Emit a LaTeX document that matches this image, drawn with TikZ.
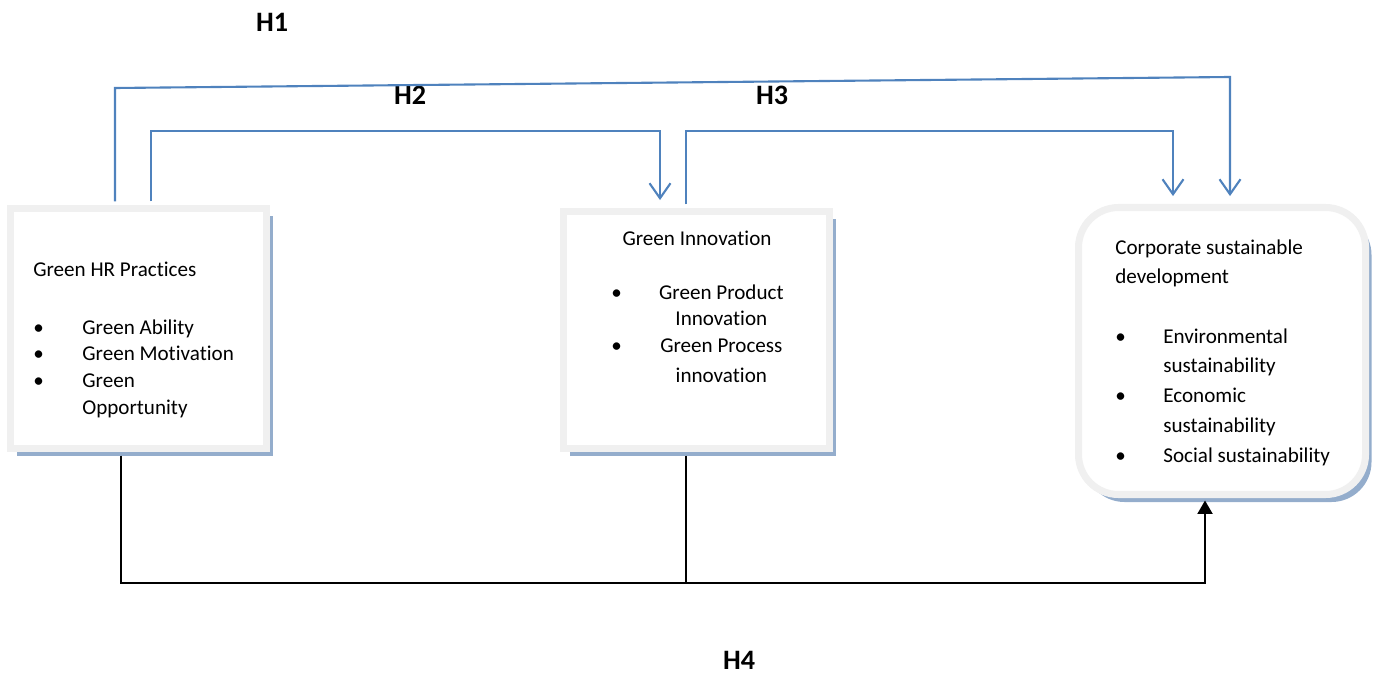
\documentclass[tikz,border=0pt]{standalone}
\usepackage{fontspec}
\setmainfont{Carlito}[Ligatures=NoCommon]
\usepackage{array}
\usepackage{tikz}
\usetikzlibrary{shadows,arrows.meta}
\definecolor{boxborder}{rgb}{0.94,0.94,0.94}
\definecolor{boxshadow}{rgb}{0.58,0.68,0.80}
\definecolor{hblue}{rgb}{0.31,0.51,0.74}
\tikzstyle{practicebox}=[rectangle, draw=boxborder, line width=4pt, fill=white, drop shadow={shadow xshift=0.12cm, shadow yshift=-0.15cm, fill=boxshadow, opacity=1}]
\tikzstyle{outcomebox}=[practicebox, rounded corners=0.8cm]
\tikzstyle{boxtext}=[inner sep=0pt, font=\fontsize{12}{15.2}\selectfont]
\tikzstyle{hypo}=[inner sep=0pt, font=\fontsize{16}{19}\selectfont\bfseries]
\tikzstyle{hypoline}=[draw=hblue, line width=1.2pt, shorten <=2pt, shorten >=4.5pt, -{Straight Barb[length=0.3cm,width=0.42cm]}]
\tikzstyle{effectline}=[draw=black, line width=1.2pt, shorten <=2pt]
\newcommand{\hypothesis}[3]{
	\node[hypo] (#1) at (#2) {#3};}

\begin{document}
\begin{tikzpicture}
	\useasboundingbox (0,0) rectangle (27.6,13.5);

	\node[practicebox, minimum width=5.12cm, minimum height=4.8cm] (hr) at (2.77,6.93) {};
	\node[practicebox, minimum width=5.32cm, minimum height=4.74cm] (gi) at (13.93,6.90) {};
	\node[outcomebox, minimum width=5.74cm, minimum height=5.74cm] (csd) at (24.44,6.48) {};

	% box contents
	\node[boxtext, anchor=base west] (hrtitle) at (0.66,7.98) {Green HR Practices};
	\node[boxtext, anchor=base west] (hrlist) at (0.66,6.82) {\begin{tabular}[t]{@{}p{0.98cm}@{}l@{}}
		\textbullet & Green Ability\\
		\textbullet & Green Motivation\\
		\textbullet & Green\\
		 & Opportunity
	\end{tabular}};

	\node[boxtext, anchor=base] (gititle) at (13.94,8.58) {Green Innovation};
	\node[boxtext, anchor=base west] (gilist) at (12.22,7.52) {\begin{tabular}[t]{@{}p{0.70cm}@{}>{\centering\arraybackslash}p{3.0cm}@{}}
		\textbullet & Green Product\\
		 & Innovation\\
		\textbullet & Green Process\\[2pt]
		 & innovation
	\end{tabular}};

	\node[boxtext, anchor=base west, font=\fontsize{12}{17}\selectfont] (csdtitle) at (22.30,8.42) {\begin{tabular}[t]{@{}l@{}}
		Corporate sustainable\\
		development
	\end{tabular}};
	\node[boxtext, anchor=base west, font=\fontsize{12}{17}\selectfont] (csdlist) at (22.30,6.64) {\begin{tabular}[t]{@{}p{0.96cm}@{}l@{}}
		\textbullet & Environmental\\
		 & sustainability\\
		\textbullet & Economic\\
		 & sustainability\\
		\textbullet & Social sustainability
	\end{tabular}};

	% hypotheses
	\hypothesis{h1}{5.44,13.06}{H1}
	\hypothesis{h2}{8.20,11.60}{H2}
	\hypothesis{h3}{15.44,11.60}{H3}
	\hypothesis{h4}{14.78,0.30}{H4}

	\coordinate (h1start) at (2.30,11.74);
	\coordinate (h1end) at (24.60,11.96);
	\coordinate (h2start) at (3.02,10.88);
	\coordinate (h2end) at (13.20,10.88);
	\coordinate (h3start) at (13.72,10.88);
	\coordinate (h3end) at (23.46,10.88);
	\draw[hypoline] (h1start |- hr.north) -- (h1start) -- (h1end) -- (h1end |- csd.north);
	\draw[hypoline] (h2start |- hr.north) -- (h2start) -- (h2end) -- (h2end |- gi.north);
	\draw[hypoline] (h3start |- gi.north) -- (h3start) -- (h3end) -- (h3end |- csd.north);

	\coordinate (hrdrop) at (2.42,1.84);
	\coordinate (gidrop) at (13.72,1.84);
	\coordinate (csdrise) at (24.10,1.84);
	\draw[effectline, shorten >=1.4pt, -{Triangle[length=0.27cm,width=0.3cm]}] (hrdrop |- hr.south) -- (hrdrop) -- (csdrise) -- (csdrise |- csd.south);
	\draw[effectline] (gidrop |- gi.south) -- (gidrop);
\end{tikzpicture}
\end{document}
